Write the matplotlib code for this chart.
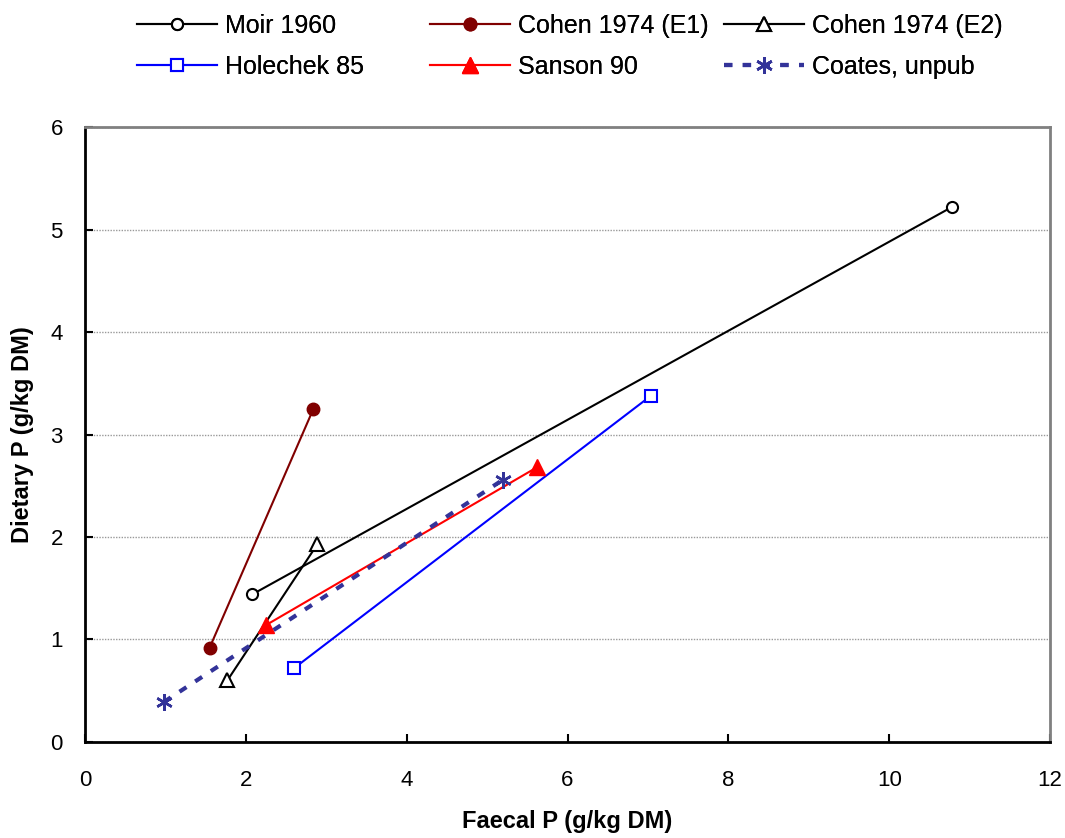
import matplotlib
matplotlib.use("Agg")
import matplotlib.pyplot as plt

plt.rcParams['font.family'] = ['Liberation Sans', 'DejaVu Sans']

# data (faecal P, dietary P)
moir_x = [2.08, 10.78]
moir_y = [1.44, 5.22]
cohen1_x = [1.55, 2.84]
cohen1_y = [0.92, 3.25]
cohen2_x = [1.77, 2.89]
cohen2_y = [0.60, 1.93]
holechek_x = [2.60, 7.04]
holechek_y = [0.72, 3.38]
sanson_x = [2.25, 5.62]
sanson_y = [1.14, 2.68]
coates_x = [0.98, 5.20]
coates_y = [0.39, 2.56]

x_ticks = [0, 2, 4, 6, 8, 10, 12]
y_ticks = [0, 1, 2, 3, 4, 5, 6]

fig = plt.figure(figsize=(10.65, 8.38), dpi=100)
ax = fig.add_axes([0.0798, 0.1146, 0.9062, 0.7338])

h_moir, = ax.plot(moir_x, moir_y, color="black", lw=1.5, marker="o", ms=8,
                  mfc="white", mec="black", mew=1.5, label="Moir 1960")
h_c1, = ax.plot(cohen1_x, cohen1_y, color="#800000", lw=1.5, marker="o", ms=9,
                mfc="#800000", mec="#800000", label="Cohen 1974 (E1)")
h_c2, = ax.plot(cohen2_x, cohen2_y, color="black", lw=1.5, marker="^", ms=10,
                mfc="white", mec="black", mew=1.5, label="Cohen 1974 (E2)")
h_hol, = ax.plot(holechek_x, holechek_y, color="#0000ff", lw=1.5, marker="s", ms=8,
                 mfc="white", mec="#0000ff", mew=1.5, label="Holechek 85")
h_san, = ax.plot(sanson_x, sanson_y, color="#ff0000", lw=1.5, marker="^", ms=12,
                 mfc="#ff0000", mec="#ff0000", label="Sanson 90")
h_coa, = ax.plot(coates_x, coates_y, color="#333399", lw=3, ls=(0, (2, 2.5)),
                 marker=(6, 2, 0), ms=12, mec="#333399", mew=1.8, label="Coates, unpub")

ax.set_xlim(0, 12)
ax.set_ylim(0, 6)
ax.set_xticks(x_ticks)
ax.set_yticks(y_ticks)
ax.tick_params(direction="in", length=6, width=1.5, labelsize=16)
ax.tick_params(axis="x", pad=20)
ax.tick_params(axis="y", pad=16)
ax.yaxis.grid(True, color="#999999", ls=(0, (1, 1)), lw=1)
ax.set_axisbelow(True)

for side in ["left", "bottom"]:
    ax.spines[side].set_color("black")
    ax.spines[side].set_linewidth(2)
for side in ["top", "right"]:
    ax.spines[side].set_color("#808080")
    ax.spines[side].set_linewidth(2)

ax.set_xlabel("Faecal P (g/kg DM)", fontsize=17, fontweight="bold", labelpad=14)
ax.set_ylabel("Dietary P (g/kg DM)", fontsize=17, fontweight="bold", labelpad=12)

# legend in three fixed-width columns, like the spreadsheet original
columns = [[h_moir, h_hol], [h_c1, h_san], [h_c2, h_coa]]
col_x = [137, 430, 724]
for hs, x0 in zip(columns, col_x):
    leg = fig.legend(handles=hs, labels=[h.get_label() for h in hs],
                     loc="upper left", bbox_to_anchor=(x0 / 1065, 0.983),
                     frameon=False, fontsize=18, handlelength=3.2,
                     handletextpad=0.32, labelspacing=0.67,
                     borderpad=0, borderaxespad=0)
    fig.add_artist(leg)

fig.savefig("out.png", dpi=100)
